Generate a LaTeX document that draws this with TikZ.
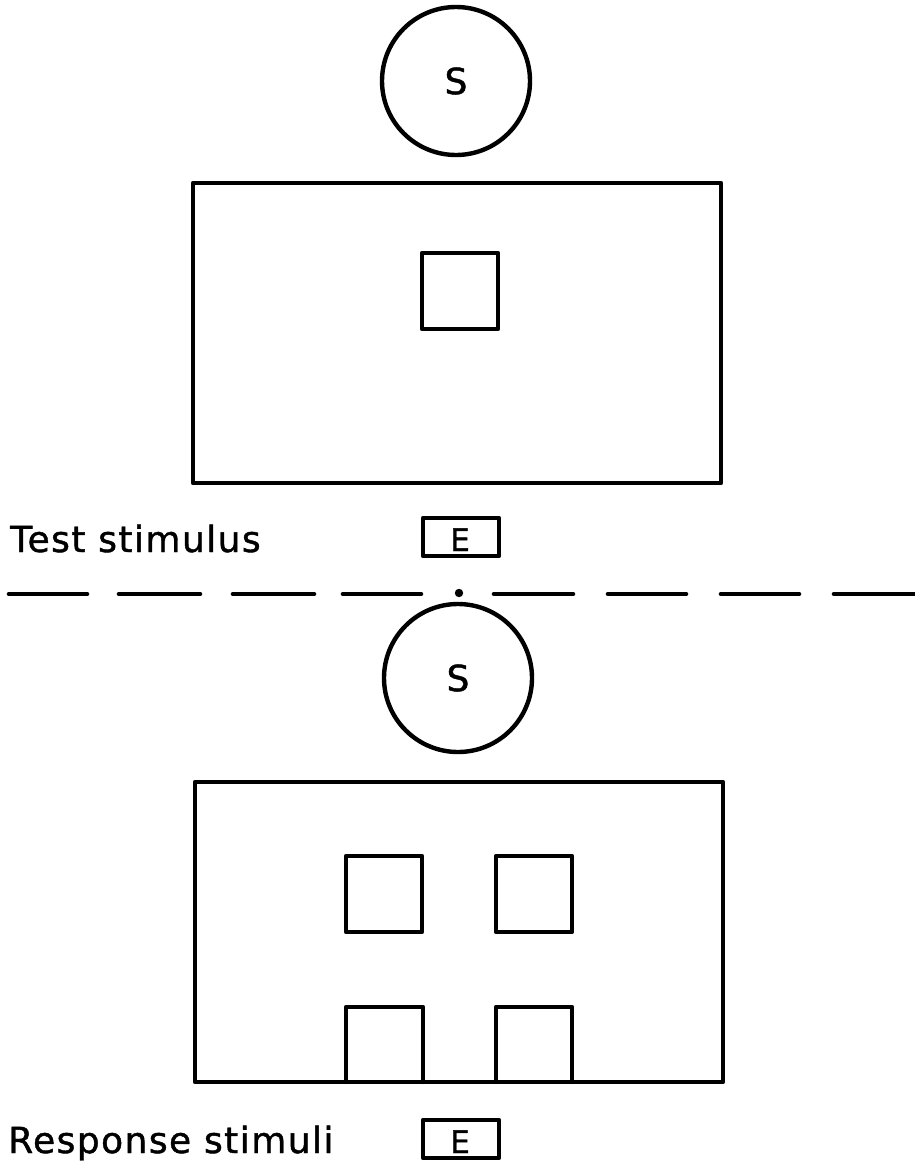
\documentclass[tikz,border=0pt]{standalone}
\usepackage{fontspec}
\setmainfont{DejaVu Sans}[LetterSpace=4,FakeBold=1.2]
\begin{document}
\begin{tikzpicture}[x=1pt,y=-1pt,
  ink/.style={line width=4.4pt,line cap=round,line join=round},
  panel/.style={ink,draw,rectangle,minimum width=528pt,minimum height=300pt,inner sep=0pt},
  eye/.style={ink,draw,circle,minimum size=148pt,inner sep=0pt,font=\fontsize{36}{42}\selectfont},
  window/.style={ink,draw,rectangle,minimum width=76pt,minimum height=76pt,inner sep=0pt},
  label/.style={anchor=base west,inner sep=0pt,font=\fontsize{36}{42}\selectfont},
  ebox/.style={ink,draw,rectangle,minimum width=76pt,minimum height=38pt,inner sep=0pt},
  elet/.style={anchor=base,inner sep=0pt,font=\fontsize{31}{36}\selectfont},
  divider/.style={line width=4.6pt,line cap=round}
]
\useasboundingbox (0,0) rectangle (914,1164);

% ---- upper half: test stimulus ----
\node[eye] (s1) at (456,81) {S};
\node[panel] (p1) at (457,333) {};
\node[window] (w0) at (460,291) {};
\node[label] (t1) at (10,552) {Test stimulus};
\node[ebox] (e1) at (461,537) {};
\node[elet] (e1l) at (460,551) {E};

% ---- divider ----
\foreach \a/\b in {9/87,119/200,233/314,343/421,494/573,608/686,721/799,834/914}
  \draw[divider] (\a,594) -- (\b,594);
\fill (459,593) circle (4.2pt);

% ---- lower half: response stimuli ----
\node[eye] (s2) at (458,678) {S};
\node[panel] (p2) at (459,932) {};
\node[window] (w1) at (384,894) {};
\node[window] (w2) at (534,894) {};
\coordinate (b1l) at (346,1082);
\coordinate (b1r) at (423,1082);
\coordinate (b2l) at (496,1082);
\coordinate (b2r) at (572,1082);
\draw[ink] (b1l) -- (346,1007) -- (423,1007) -- (b1r);
\draw[ink] (b2l) -- (496,1007) -- (572,1007) -- (b2r);
\node[label] (t2) at (8,1153) {Response stimuli};
\node[ebox] (e2) at (461,1139) {};
\node[elet] (e2l) at (460,1153) {E};
\end{tikzpicture}
\end{document}
